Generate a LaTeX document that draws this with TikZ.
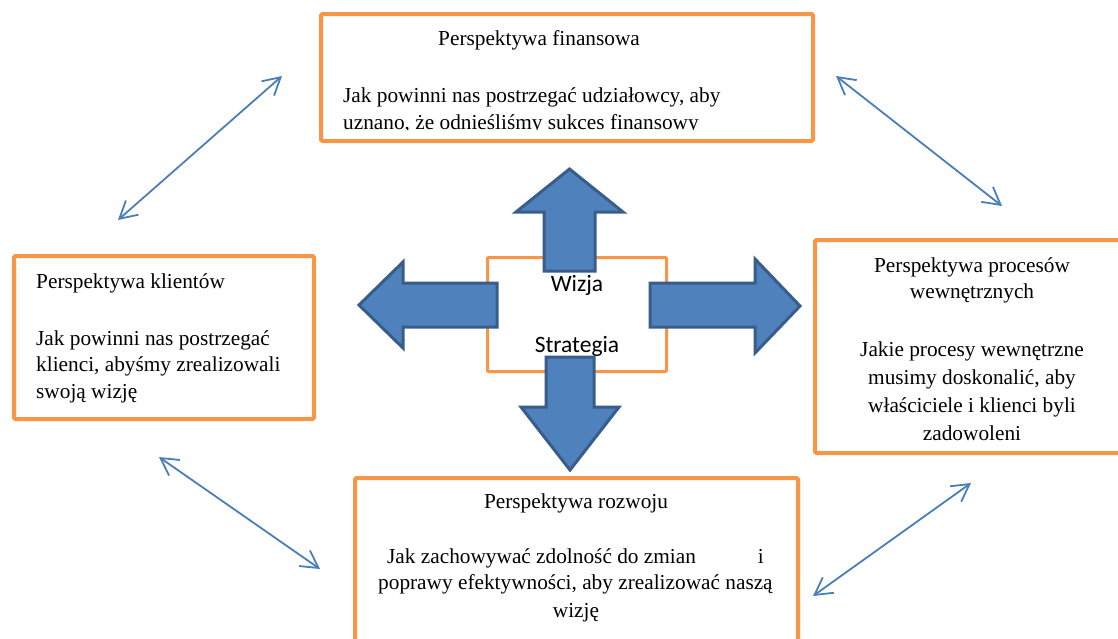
\documentclass[tikz,border=0pt]{standalone}
\usepackage{fontspec}
\setmainfont{Liberation Serif}
\newfontfamily\calib{Carlito}
\usetikzlibrary{arrows.meta}
\definecolor{boxorange}{HTML}{F79646}
\definecolor{arrfill}{HTML}{4F81BD}
\definecolor{arredge}{HTML}{385D8A}
\definecolor{conn}{HTML}{4A7EBB}
\tikzset{
  pbox/.style={draw=boxorange, line width=4pt, rounded corners=1.5pt, fill=white, inner sep=0pt},
  cbox/.style={draw=boxorange, line width=3pt, rounded corners=1pt, fill=white, inner sep=0pt},
  bigarrow/.style={fill=arrfill, draw=arredge, line width=3pt, line join=miter},
  link/.style={draw=conn, line width=1.8pt, {Straight Barb[length=17pt,width=19pt,line width=1.8pt]}-{Straight Barb[length=17pt,width=19pt,line width=1.8pt]}},
  ptext/.style={inner sep=0pt, font=\fontsize{21.3}{26}\selectfont},
  ctext/.style={inner sep=0pt, font=\calib\fontsize{23.5}{28}\selectfont}
}
\begin{document}
\begin{tikzpicture}[x=1pt,y=-1pt]
\useasboundingbox (0,0) rectangle (1118,638);
\clip (0,0) rectangle (1118,638);
\fill[white] (0,0) rectangle (1118,638);

% perspective boxes
\node[pbox, minimum width=492pt, minimum height=127pt] (fin) at (567,77.5) {};
\node[pbox, minimum width=300pt, minimum height=163pt] (kli) at (164,337.5) {};
\node[pbox, minimum width=325pt, minimum height=213pt] (pro) at (977.5,346.5) {};
\node[pbox, minimum width=443pt, minimum height=182pt] (roz) at (576.5,569) {};

% centre box
\node[cbox, minimum width=179pt, minimum height=114pt] (ws) at (577,314.5) {};

% big block arrows
\draw[bigarrow] (544,271) -- (544,212) -- (516,212) -- (569.5,169) -- (623,212) -- (595,212) -- (595,271) -- cycle;
\draw[bigarrow] (497,283) -- (403,283) -- (403,262) -- (359,305) -- (403,348) -- (403,327) -- (497,327) -- cycle;
\draw[bigarrow] (650,283) -- (755,283) -- (755,259) -- (800,306) -- (755,353) -- (755,327) -- (650,327) -- cycle;
\draw[bigarrow] (546,357) -- (546,407) -- (521,407) -- (570,470) -- (619,407) -- (594,407) -- (594,357) -- cycle;

% centre texts
\node[ctext, anchor=base] (wiz) at (577,291) {Wizja};
\node[ctext, anchor=base] (str) at (577,352) {Strategia};

% double-headed connectors
\coordinate (a1) at (118,220); \coordinate (b1) at (282,76);
\coordinate (a2) at (836,76);  \coordinate (b2) at (1002,206);
\coordinate (a3) at (159,457); \coordinate (b3) at (320,569);
\coordinate (a4) at (971,483); \coordinate (b4) at (813,596);
\draw[link] (a1) -- (b1);
\draw[link] (a2) -- (b2);
\draw[link] (a3) -- (b3);
\draw[link] (a4) -- (b4);

% texts: financial
\node[ptext, anchor=base west] (f1) at (438,45) {Perspektywa finansowa};
\node[ptext, anchor=base west] (f2) at (343,102) {Jak powinni nas postrzegać udziałowcy, aby};
\begin{scope}
\clip (330,110) rectangle (800,129.5);
\node[ptext, anchor=base west] (f3) at (343,129) {uznano, że odnieśliśmy sukces finansowy};
\end{scope}

% texts: clients
\node[ptext, anchor=base west] (k1) at (36,288) {Perspektywa klientów};
\node[ptext, anchor=base west] (k2) at (36,345) {Jak powinni nas postrzegać};
\node[ptext, anchor=base west] (k3) at (36,371) {klienci, abyśmy zrealizowali};
\node[ptext, anchor=base west] (k4) at (36,398) {swoją wizję};

% texts: processes
\node[ptext, anchor=base] (p1) at (972,272) {Perspektywa procesów};
\node[ptext, anchor=base] (p2) at (972,298) {wewnętrznych};
\node[ptext, anchor=base] (p3) at (972,356) {Jakie procesy wewnętrzne};
\node[ptext, anchor=base] (p4) at (972,384) {musimy doskonalić, aby};
\node[ptext, anchor=base] (p5) at (972,412) {właściciele i klienci byli};
\node[ptext, anchor=base] (p6) at (972,440) {zadowoleni};

% texts: development
\node[ptext, anchor=base] (r1) at (576,508) {Perspektywa rozwoju};
\node[ptext, anchor=base west] (r2) at (387,563) {Jak zachowywać zdolność do zmian};
\node[ptext, anchor=base east] (r2b) at (764,563) {i};
\node[ptext, anchor=base west] (r3) at (378,589) {poprawy efektywności, aby zrealizować naszą};
\node[ptext, anchor=base] (r4) at (576,617) {wizję};
\end{tikzpicture}
\end{document}
